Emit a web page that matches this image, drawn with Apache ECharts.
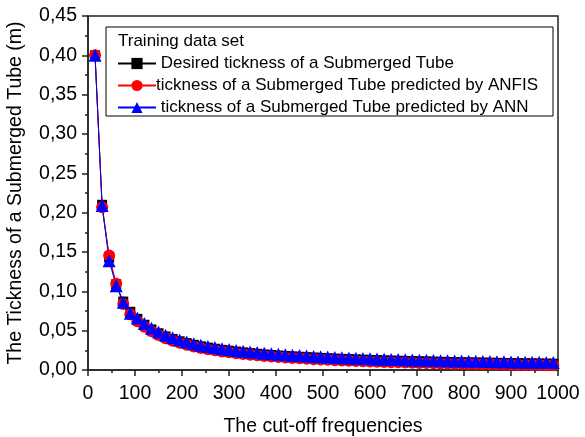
<!DOCTYPE html>
<html>
<head>
<meta charset="utf-8">
<script src="https://cdn.jsdelivr.net/npm/echarts@6/dist/echarts.min.js"></script>
<style>
  html, body { margin: 0; padding: 0; background: #fff; }
  #chart { width: 585px; height: 437px; }
</style>
</head>
<body>
<div id="chart"></div>
<script>
// Cut-off frequencies (Hz), one sample every 15
const frequencies = [
  15, 30, 45, 60, 75, 90, 105, 120, 135, 150,
  165, 180, 195, 210, 225, 240, 255, 270, 285, 300,
  315, 330, 345, 360, 375, 390, 405, 420, 435, 450,
  465, 480, 495, 510, 525, 540, 555, 570, 585, 600,
  615, 630, 645, 660, 675, 690, 705, 720, 735, 750,
  765, 780, 795, 810, 825, 840, 855, 870, 885, 900,
  915, 930, 945, 960, 975, 990
];

// Desired thickness (m)
const desired = [
  0.400, 0.210, 0.143, 0.109, 0.087, 0.074, 0.065, 0.0575, 0.0515, 0.0467,
  0.0427, 0.0394, 0.0365, 0.0341, 0.0320, 0.0301, 0.0285, 0.0270, 0.0256, 0.0245,
  0.0234, 0.0224, 0.0215, 0.0206, 0.0198, 0.0191, 0.0184, 0.0178, 0.0173, 0.0168,
  0.0163, 0.0158, 0.0154, 0.0149, 0.0145, 0.0141, 0.0138, 0.0134, 0.0131, 0.0128,
  0.0125, 0.0122, 0.0120, 0.0117, 0.0115, 0.0113, 0.0110, 0.0108, 0.0106, 0.0104,
  0.0102, 0.0100, 0.0098, 0.0097, 0.0095, 0.0094, 0.0092, 0.0091, 0.0089, 0.0088,
  0.0087, 0.0085, 0.0084, 0.0083, 0.0081, 0.0080
];

// Thickness predicted by ANFIS (m)
const anfis = [
  0.400, 0.207, 0.1455, 0.1096, 0.084, 0.071, 0.062, 0.0550, 0.0492, 0.0445,
  0.0405, 0.0373, 0.0345, 0.0321, 0.0300, 0.0281, 0.0265, 0.0250, 0.0236, 0.0225,
  0.0214, 0.0204, 0.0195, 0.0186, 0.0178, 0.0171, 0.0164, 0.0158, 0.0153, 0.0148,
  0.0143, 0.0138, 0.0134, 0.0129, 0.0125, 0.0121, 0.0118, 0.0114, 0.0111, 0.0108,
  0.0105, 0.0102, 0.0100, 0.0097, 0.0095, 0.0093, 0.0090, 0.0088, 0.0086, 0.0084,
  0.0082, 0.0080, 0.0078, 0.0077, 0.0075, 0.0074, 0.0072, 0.0071, 0.0069, 0.0068,
  0.0067, 0.0065, 0.0064, 0.0063, 0.0061, 0.0060
];

// Thickness predicted by ANN (m)
const ann = [
  0.400, 0.209, 0.139, 0.107, 0.086, 0.072, 0.066, 0.0590, 0.0530, 0.0482,
  0.0442, 0.0409, 0.0380, 0.0356, 0.0335, 0.0316, 0.0300, 0.0285, 0.0271, 0.0260,
  0.0249, 0.0239, 0.0230, 0.0221, 0.0213, 0.0206, 0.0199, 0.0193, 0.0188, 0.0183,
  0.0178, 0.0173, 0.0169, 0.0164, 0.0160, 0.0156, 0.0153, 0.0149, 0.0146, 0.0143,
  0.0140, 0.0137, 0.0135, 0.0132, 0.0130, 0.0128, 0.0125, 0.0123, 0.0121, 0.0119,
  0.0117, 0.0115, 0.0113, 0.0112, 0.0110, 0.0109, 0.0107, 0.0106, 0.0104, 0.0103,
  0.0102, 0.0100, 0.0099, 0.0098, 0.0096, 0.0095
];

const seriesNames = [
  ' Desired tickness of a Submerged Tube',
  'tickness of a Submerged Tube predicted by ANFIS',
  ' tickness of a Submerged Tube predicted by ANN'
];

const pairs = (ys) => frequencies.map((f, i) => [f, ys[i]]);
const FONT = 'Liberation Sans, Arial, sans-serif';
const AXIS_COLOR = '#222';

const chart = echarts.init(document.getElementById('chart'), null, { renderer: 'canvas' });

function lineSeries(name, data, color, symbol, size) {
  return {
    name: name,
    type: 'line',
    data: pairs(data),
    symbol: symbol,
    symbolSize: size,
    showAllSymbol: true,
    lineStyle: { color: color, width: 1 },
    itemStyle: { color: color },
    emphasis: { disabled: true },
    animation: false
  };
}

function axisCommon() {
  return {
    axisLine: { show: true, lineStyle: { color: AXIS_COLOR, width: 1.5 } },
    axisTick: { show: true, inside: false, length: 6, lineStyle: { color: AXIS_COLOR, width: 1.5 } },
    minorTick: { show: true, splitNumber: 2, length: 3, lineStyle: { color: AXIS_COLOR, width: 1.5 } },
    splitLine: { show: false }
  };
}

chart.setOption({
  backgroundColor: '#ffffff',
  animation: false,
  grid: {
    left: 88, right: 27, top: 16, bottom: 67,
    outerBoundsMode: 'none',
    containLabel: false,
    show: true, borderColor: AXIS_COLOR, borderWidth: 1.5, backgroundColor: 'transparent'
  },
  xAxis: Object.assign(axisCommon(), {
    type: 'value',
    min: 0, max: 1000, interval: 100,
    name: 'The cut-off frequencies',
    nameLocation: 'middle',
    nameGap: 47,
    nameTextStyle: { fontFamily: FONT, fontSize: 19.5, color: '#000' },
    axisLabel: {
      fontFamily: FONT, fontSize: 19.5, color: '#000', margin: 14,
      formatter: (v) => String(v)
    }
  }),
  yAxis: Object.assign(axisCommon(), {
    type: 'value',
    min: 0, max: 0.45, interval: 0.05,
    name: 'The Tickness of a Submerged Tube (m)',
    nameLocation: 'middle',
    nameGap: 62,
    nameTextStyle: { fontFamily: FONT, fontSize: 19.5, color: '#000' },
    axisLabel: {
      fontFamily: FONT, fontSize: 19.5, color: '#000', margin: 11,
      formatter: (v) => v.toFixed(2).replace('.', ',')
    }
  }),
  legend: {
    orient: 'vertical',
    left: 117, top: 55,
    itemWidth: 38, itemHeight: 14,
    itemGap: 5,
    padding: 0,
    textStyle: { fontFamily: FONT, fontSize: 17, color: '#000', padding: [0, 0, 0, -5] },
    data: seriesNames
  },
  graphic: [
    {
      type: 'rect',
      shape: { x: 106, y: 27, width: 447, height: 89 },
      style: { fill: '#fff', stroke: '#000', lineWidth: 1 },
      z: 1
    },
    {
      type: 'text',
      x: 118, y: 33,
      style: { text: 'Training data set', fontFamily: FONT, fontSize: 17, fill: '#000' },
      z: 2
    }
  ],
  series: [
    lineSeries(seriesNames[0], desired, '#000000', 'rect', 10),
    lineSeries(seriesNames[1], anfis, '#ff0000', 'circle', 12),
    lineSeries(seriesNames[2], ann, '#0000ff', 'triangle', 13)
  ]
});
</script>
</body>
</html>
